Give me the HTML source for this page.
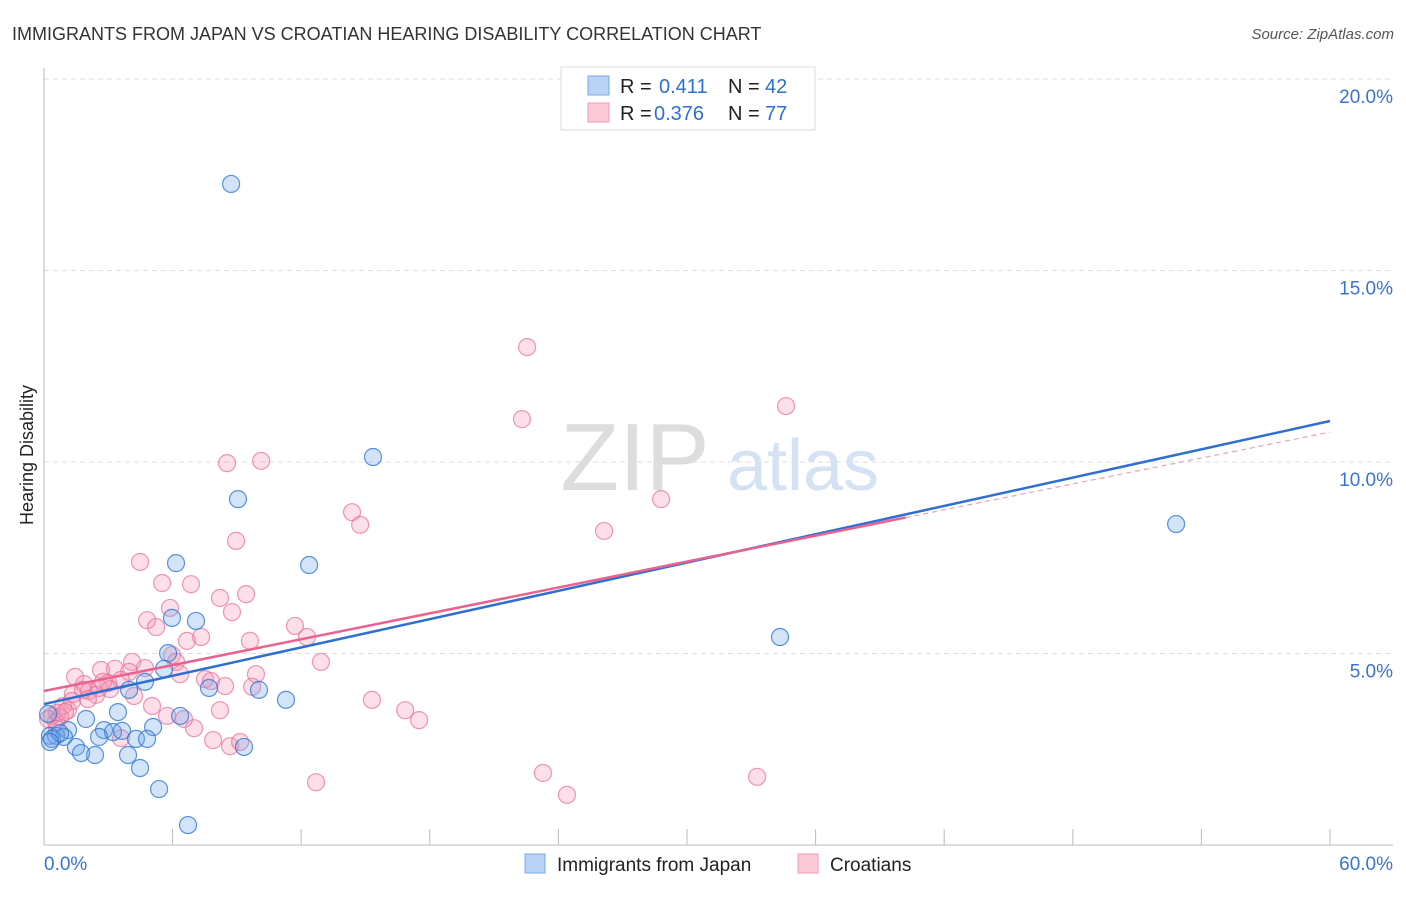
<!DOCTYPE html>
<html><head><meta charset="utf-8"><style>
body{margin:0;background:#fff;font-family:"Liberation Sans",sans-serif;}
svg text{font-family:"Liberation Sans",sans-serif;}
</style></head><body>
<svg id="chart" width="1406" height="892" xmlns="http://www.w3.org/2000/svg">
<text x="12" y="40" font-size="18" fill="#333">IMMIGRANTS FROM JAPAN VS CROATIAN HEARING DISABILITY CORRELATION CHART</text>
<text x="1394" y="39" font-size="15" fill="#555" font-style="italic" text-anchor="end">Source: ZipAtlas.com</text>
<g id="grid"></g>
<text x="635" y="490" font-size="96" fill="#ddd" font-family="Liberation Serif" text-anchor="middle">ZIP</text>
<text x="803" y="490" font-size="72" fill="#d4e2f4" text-anchor="middle">atlas</text>
<g id="axes"></g>
<g id="pts"></g>
<g id="lines"></g>
<text transform="translate(33,455) rotate(-90)" font-size="18" fill="#222" text-anchor="middle">Hearing Disability</text>
<g>
<rect x="561" y="67" width="254" height="63" fill="#fff" stroke="#ddd"/>
<rect x="588" y="76" width="21" height="19" fill="#b8d3f5" stroke="#7aa8e6"/>
<rect x="588" y="103" width="21" height="19" fill="#fbc9d8" stroke="#f09ab5"/>
<text y="93" font-size="20"><tspan x="620" fill="#222">R = </tspan><tspan x="659" fill="#2f6fd0">0.411</tspan><tspan x="728" fill="#222">N = </tspan><tspan x="765" fill="#2f6fd0">42</tspan></text>
<text y="120" font-size="20"><tspan x="620" fill="#222">R = </tspan><tspan x="654" fill="#2f6fd0">0.376</tspan><tspan x="728" fill="#222">N = </tspan><tspan x="765" fill="#2f6fd0">77</tspan></text>
</g>
<g>
<rect x="525" y="854" width="20" height="19" fill="#b8d3f5" stroke="#7aa8e6"/>
<text x="557" y="871" font-size="19" fill="#222">Immigrants from Japan</text>
<rect x="798" y="854" width="20" height="19" fill="#fbc9d8" stroke="#f09ab5"/>
<text x="830" y="871" font-size="19" fill="#222">Croatians</text>
</g>
</svg>
<script>
const blueX=[8.73,9.05,15.35,6.16,12.37,7.09,5.97,5.79,5.60,4.71,3.97,7.70,10.03,11.29,3.45,6.35,5.09,1.96,1.12,2.80,3.22,3.64,2.57,4.29,4.81,0.56,0.93,0.28,0.19,1.49,2.38,1.73,3.92,4.48,5.37,6.72,9.33,52.82,34.34,0.37,0.75,0.28];
const blueY=[17.26,9.03,10.13,7.36,7.31,5.85,5.93,5.01,4.60,4.26,4.05,4.10,4.05,3.79,3.47,3.37,3.08,3.29,3.00,3.00,2.95,2.98,2.82,2.77,2.77,2.85,2.82,2.85,3.42,2.56,2.35,2.40,2.35,2.01,1.46,0.52,2.56,8.38,5.43,2.77,2.92,2.69];
const pinkX=[22.54,34.62,22.30,8.54,10.13,28.79,8.96,14.37,14.75,26.13,4.48,5.51,6.86,5.88,9.43,8.21,8.77,4.81,5.23,11.71,6.67,7.33,9.61,12.27,5.97,6.16,4.11,3.31,2.66,4.71,3.97,6.35,12.92,9.89,7.51,7.79,1.45,1.87,2.99,3.59,2.57,2.10,1.35,2.43,0.89,1.12,0.61,0.37,0.19,0.56,0.75,1.31,4.20,5.04,5.74,6.53,7.00,8.21,9.71,15.30,16.85,17.50,7.89,8.68,9.15,3.59,12.69,23.28,24.40,33.27,1.82,2.05,3.08,2.75,0.61,0.98,8.45];
const pinkY=[13.00,11.46,11.12,9.97,10.03,9.03,7.94,8.69,8.36,8.20,7.39,6.84,6.81,6.19,6.55,6.45,6.08,5.87,5.69,5.72,5.33,5.43,5.33,5.43,4.96,4.78,4.78,4.60,4.57,4.62,4.52,4.46,4.78,4.46,4.33,4.28,4.39,4.20,4.23,4.31,4.10,4.02,3.94,3.92,3.63,3.52,3.45,3.37,3.29,3.21,3.34,3.76,3.89,3.63,3.37,3.29,3.05,3.52,4.13,3.79,3.52,3.26,2.74,2.58,2.69,2.79,1.64,1.88,1.31,1.78,4.05,3.81,4.07,4.26,3.03,3.47,4.15];
const blueTrend=[3.68,11.07];
const pinkTrend=[4.02,10.78];
const pinkSolidEnd=40.2;
const yTicks=[5,10,15,20];
const yTickLabels=["5.0%","10.0%","15.0%","20.0%"];
const xTicks=[0,6,12,18,24,30,36,42,48,54,60];
const NS="http://www.w3.org/2000/svg";
const X0=44,X1=1330,Y0=845,YP=38.3;
function sx(v){return X0+v/60*(X1-X0);}
function sy(v){return Y0-v*YP;}
function mk(t,a,p){const e=document.createElementNS(NS,t);for(const k in a)e.setAttribute(k,a[k]);p.appendChild(e);return e;}
const grid=document.getElementById('grid'),axes=document.getElementById('axes'),pts=document.getElementById('pts'),lines=document.getElementById('lines');
yTicks.forEach((v,i)=>{
 const l=mk('line',{x1:X0,x2:1393,y1:sy(v),y2:sy(v),stroke:'#ddd','stroke-dasharray':'5,4'},grid);
 
 
 const t=mk('text',{x:1393,y:sy(v)+24,'font-size':19,fill:'#3a74cf','text-anchor':'end'},axes);
 t.textContent=yTickLabels[i];
 
 
});
mk('line',{x1:X0,x2:X0,y1:68,y2:Y0,stroke:'#bbb'},axes);
mk('line',{x1:X0,x2:1393,y1:Y0,y2:Y0,stroke:'#bbb'},axes);
xTicks.forEach(v=>{
 const l=mk('line',{x1:sx(v),x2:sx(v),y1:Y0-16,y2:Y0,stroke:'#bbb'},axes);
 
 
});
const xl=mk('text',{x:44,y:870,'font-size':19,fill:'#3a74cf'},axes);xl.textContent='0.0%';


const xr=mk('text',{x:1393,y:870,'font-size':19,fill:'#3a74cf','text-anchor':'end'},axes);xr.textContent='60.0%';


function dots(xs,ys,fill,stroke,name){xs.forEach((x,i)=>{
 const c=mk('circle',{cx:sx(x),cy:sy(ys[i]),r:8.5,fill:fill,stroke:stroke,'stroke-width':1.2},pts);
 
 
});}
dots(pinkX,pinkY,'rgba(244,150,180,0.3)','rgba(232,110,150,0.7)','croatian-point');
dots(blueX,blueY,'rgba(110,165,235,0.3)','rgba(50,120,210,0.8)','japan-point');
const ty=(tr,x)=>tr[0]+(tr[1]-tr[0])*x/60;
const bl=mk('line',{x1:sx(0),y1:sy(blueTrend[0]),x2:sx(60),y2:sy(blueTrend[1]),stroke:'#2f6fd0','stroke-width':2.5},lines);


const pl=mk('line',{x1:sx(0),y1:sy(pinkTrend[0]),x2:sx(pinkSolidEnd),y2:sy(ty(pinkTrend,pinkSolidEnd)),stroke:'#e8638f','stroke-width':2.5},lines);


const pd=mk('line',{x1:sx(pinkSolidEnd),y1:sy(ty(pinkTrend,pinkSolidEnd)),x2:sx(60),y2:sy(pinkTrend[1]),stroke:'#e8a0b8','stroke-width':1.2,'stroke-dasharray':'5,4'},lines);


</script>
</body></html>
